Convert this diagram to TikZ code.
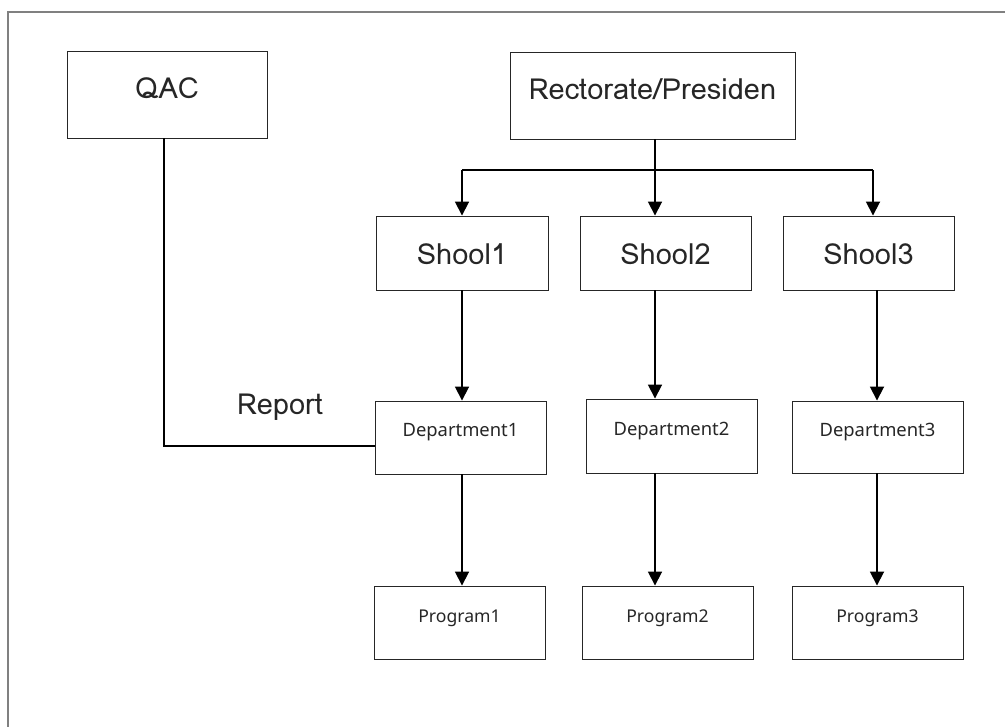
\documentclass[tikz,border=0pt]{standalone}
\usepackage{fontspec}
\setmainfont{Noto Sans}
\newfontfamily\bigfont{Loma}
\newfontfamily\smallfont{Noto Sans}
\usetikzlibrary{arrows.meta}
\begin{document}
\begin{tikzpicture}[x=1pt,y=-1pt,
  box/.style={draw=black!85,line width=0.9pt,inner sep=0pt,rectangle},
  bigtxt/.style={anchor=base,inner sep=0pt,font=\bigfont\fontsize{29}{30}\selectfont,text=black!85},
  smalltxt/.style={anchor=base,inner sep=0pt,font=\smallfont\fontsize{18.4}{20}\selectfont,text=black!85},
  progtxt/.style={anchor=base,inner sep=0pt,font=\smallfont\fontsize{17.6}{20}\selectfont,text=black!85},
  arr/.style={line width=1.8pt,-{Triangle[length=14pt,width=14pt]}},
  plain/.style={line width=1.5pt}]
\useasboundingbox (0,0) rectangle (1005,727);
\draw[draw=black!50,line width=1.3pt] (8,727) -- (8,12) -- (1005,12);
% boxes
\node[box,minimum width=200pt,minimum height=87pt] (qac) at (167,94.5) {};
\node[box,minimum width=285pt,minimum height=87pt] (rect) at (652.5,95.5) {};
\node[box,minimum width=172pt,minimum height=74pt] (s1) at (462,253) {};
\node[box,minimum width=171pt,minimum height=74pt] (s2) at (665.5,253) {};
\node[box,minimum width=171pt,minimum height=74pt] (s3) at (868.5,253) {};
\node[box,minimum width=171pt,minimum height=73pt] (d1) at (460.5,437.5) {};
\node[box,minimum width=171pt,minimum height=74pt] (d2) at (671.5,436) {};
\node[box,minimum width=171pt,minimum height=72pt] (d3) at (877.5,437) {};
\node[box,minimum width=171pt,minimum height=73pt] (p1) at (459.5,622.5) {};
\node[box,minimum width=171pt,minimum height=73pt] (p2) at (667.5,622.5) {};
\node[box,minimum width=171pt,minimum height=73pt] (p3) at (877.5,622.5) {};
% texts
\node[bigtxt] (tqac) at (167,99) {QAC};
\node[bigtxt] (trect) at (652.5,100) {Rectorate/Presiden};
\node[bigtxt] (ts1) at (462,265) {Shool1};
\node[bigtxt] (ts2) at (665.5,265) {Shool2};
\node[bigtxt] (ts3) at (868.5,265) {Shool3};
\node[bigtxt] (trep) at (280,415) {Report};
\node[smalltxt] (td1) at (460.5,437) {Department1};
\node[smalltxt] (td2) at (671.5,436) {Department2};
\node[smalltxt] (td3) at (877.5,437) {Department3};
\node[progtxt] (tp1) at (459.5,622) {Program1};
\node[progtxt] (tp2) at (667.5,622) {Program2};
\node[progtxt] (tp3) at (877.5,622) {Program3};
% column coordinates
\coordinate (c1) at (462,170);
\coordinate (c2) at (655,170);
\coordinate (c3) at (877,170);
\coordinate (bus3) at (873,170);
\coordinate (rep) at (164,446);
% connectors
\draw[line width=1.8pt] (rect.south -| c2) -- (c2);
\draw[line width=1.8pt] (c1) -- (bus3);
\draw[arr] (c1) -- (s1.north -| c1);
\draw[arr] (c2) -- (s2.north -| c2);
\draw[arr] (bus3) -- (s3.north -| bus3);
\draw[arr] (s1.south -| c1) -- (d1.north -| c1);
\draw[arr] (d1.south -| c1) -- (p1.north -| c1);
\draw[arr] (s2.south -| c2) -- (d2.north -| c2);
\draw[arr] (d2.south -| c2) -- (p2.north -| c2);
\draw[arr] (s3.south -| c3) -- (d3.north -| c3);
\draw[arr] (d3.south -| c3) -- (p3.north -| c3);
\draw[plain] (qac.south -| rep) -- (rep) -- (d1.west |- rep);
\end{tikzpicture}
\end{document}
